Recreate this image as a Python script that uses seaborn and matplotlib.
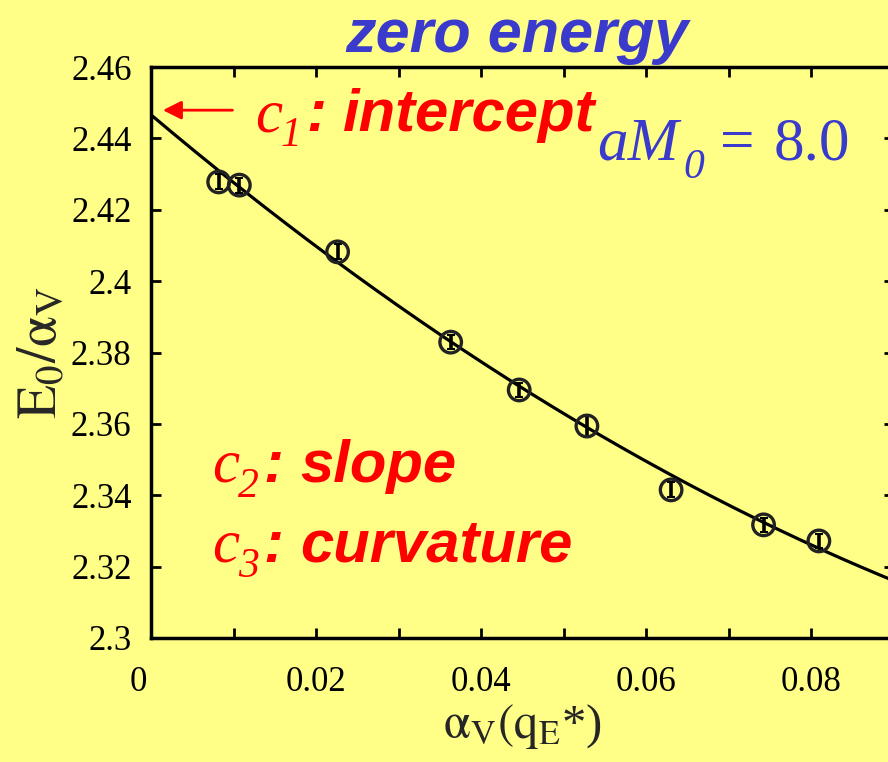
import numpy as np
import matplotlib
matplotlib.use("Agg")
import matplotlib.pyplot as plt
from matplotlib.transforms import ScaledTranslation
import seaborn as sns
import pandas as pd

# measured points (alpha_V(q*), E0/alpha_V) with errors
alpha_v = [0.0082, 0.0107, 0.0226, 0.0363, 0.0446, 0.0528, 0.0630, 0.0742, 0.0809]
e0_over_alpha = [2.4278, 2.4269, 2.4082, 2.3829, 2.3695, 2.3594, 2.3415, 2.3317, 2.3272]
e0_err = [0.0021, 0.0021, 0.0021, 0.0019, 0.0019, 0.0032, 0.0021, 0.0019, 0.0019]

# quadratic fit coefficients: c1 + c2*x + c3*x^2
c1, c2, c3 = 2.4466, -1.954, 5.59

x_ticks = [0, 0.01, 0.02, 0.03, 0.04, 0.05, 0.06, 0.07, 0.08, 0.09]
x_ticklabels = ["0", "", "0.02", "", "0.04", "", "0.06", "", "0.08", ""]
y_ticks = [2.3, 2.32, 2.34, 2.36, 2.38, 2.4, 2.42, 2.44, 2.46]
y_ticklabels = ["2.3", "2.32", "2.34", "2.36", "2.38", "2.4", "2.42", "2.44", "2.46"]

df = pd.DataFrame({"alpha": alpha_v, "E": e0_over_alpha, "err": e0_err})
x_fit = np.linspace(0, 0.09, 200)
df_fit = pd.DataFrame({"alpha": x_fit, "E": c1 + c2 * x_fit + c3 * x_fit ** 2})

sns.set_theme(style="white")
plt.rcParams["font.family"] = ["Liberation Serif", "DejaVu Serif"]
plt.rcParams["mathtext.fontset"] = "stix"

BG = "#ffff88"
RED = "#ff0000"
BLUE = "#3a3acc"

W, H = 888, 762
fig = plt.figure(figsize=(W / 100, H / 100), dpi=100)
fig.patch.set_facecolor(BG)
ax = fig.add_axes([151 / W, (H - 638) / H, (894 - 151) / W, (638 - 67) / H])
ax.set_facecolor(BG)

sns.lineplot(data=df_fit, x="alpha", y="E", ax=ax, color="black", lw=2.3)
ax.errorbar(df["alpha"], df["E"], yerr=df["err"], fmt="none",
            ecolor="black", elinewidth=2.6, capsize=3, capthick=1.5, zorder=3)
sns.scatterplot(data=df, x="alpha", y="E", ax=ax, marker="o", s=240,
                facecolor="none", edgecolor="#222222", linewidth=2.4, zorder=4)

ax.set_xlim(0, 0.09)
ax.set_ylim(2.3, 2.46)
ax.set_xticks(x_ticks)
ax.set_xticklabels(x_ticklabels)
ax.set_yticks(y_ticks)
ax.set_yticklabels(y_ticklabels)
ax.tick_params(axis="both", direction="in", length=7, width=2, labelsize=25,
               colors="black", top=True, right=True, bottom=True, left=True)
ax.tick_params(axis="x", pad=20)
ax.tick_params(axis="y", pad=14)
for s in ax.spines.values():
    s.set_color("black")
    s.set_linewidth(2.5)

# the "0" label sits a bit left of its tick in the original
lab0 = ax.get_xticklabels()[0]
lab0.set_transform(lab0.get_transform() + ScaledTranslation(-0.13, 0, fig.dpi_scale_trans))

ax.set_xlabel(r"$\mathrm{\alpha_V(q_E}$*)", fontsize=35, labelpad=2)
ax.set_ylabel(r"$\mathrm{E_0/\alpha_V}$", fontsize=40, labelpad=2)


def px(x, y):
    return x / W, 1 - y / H


fig.text(*px(517, 52), "zero energy", color=BLUE, fontsize=44,
         family="Liberation Sans", weight="bold", style="italic",
         ha="center", va="baseline")

# intercept arrow
ax.annotate("", xy=(0.0011, 2.4479), xytext=(0.0102, 2.4479),
            arrowprops=dict(arrowstyle="-|>", color=RED, lw=2, mutation_scale=28))

sans = dict(color=RED, fontsize=43, family="Liberation Sans", weight="bold",
            style="italic", va="baseline", ha="left")
serif = dict(color=RED, family="Liberation Serif", style="italic",
             va="baseline", ha="left")

for (cx, base, sub, lab) in [(255, 131, "1", "intercept"),
                             (212, 482, "2", "slope"),
                             (212, 562, "3", "curvature")]:
    fig.text(*px(cx, base), "c", fontsize=44, **serif)
    fig.text(*px(cx + 26, base + 15), sub, fontsize=30, **serif)
    fig.text(*px(cx + 51, base), ":", **sans)
    fig.text(*px(cx + 88, base), lab, **sans)

blue_serif = dict(color=BLUE, family="Liberation Serif", va="baseline", ha="left")
fig.text(*px(597, 160), "aM", fontsize=44, style="italic", **blue_serif)
fig.text(*px(683, 178), "0", fontsize=30, style="italic", **blue_serif)
fig.text(*px(720, 160), "=", fontsize=44, **blue_serif)
fig.text(*px(774, 160), "8.0", fontsize=44, **blue_serif)

fig.savefig("out.png", dpi=100, facecolor=BG)
